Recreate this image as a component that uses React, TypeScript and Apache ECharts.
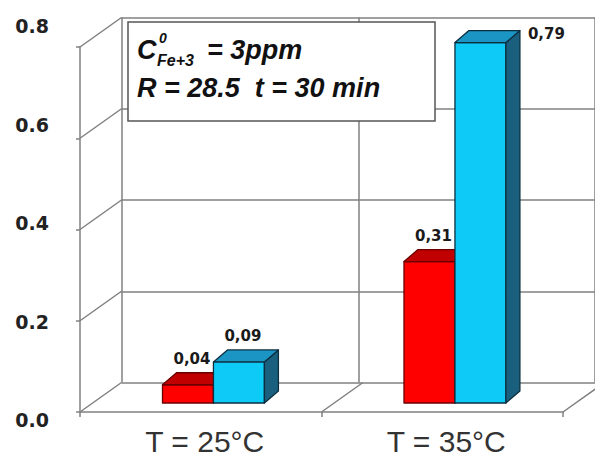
import React, { useEffect, useRef } from "react";
import * as echarts from "echarts";

// Categories, values and axis ticks
const categories = ["T = 25°C", "T = 35°C"];
const seriesRed = [0.04, 0.31];
const seriesBlue = [0.09, 0.79];
const yTicks = [0, 0.2, 0.4, 0.6, 0.8];
const floorEdges = [1, 2];

const Y_MIN = 0;
const Y_MAX = 0.8;
const Y_STEP = 0.2;

// Pseudo-3D geometry (pixels)
const WALL_DEPTH = [41.5, -29.5];
const FACE_SHIFT = [12.7, -9];
const BAR_DEPTH = [14, -12];
const BAR_FRACTION = 0.211;

const LINE = "#808080";

function barRenderer(slot: number, c: { front: string; top: string; side: string; edge: string }) {
  return (params: any, api: any) => {
    const cat = api.value(0);
    const v = api.value(1);
    const top = api.coord([cat, v]);
    const base = api.coord([cat, 0]);
    const band = api.size([1, 0])[0];
    const w = band * BAR_FRACTION;
    const x0 = top[0] + FACE_SHIFT[0] + slot * w;
    const x1 = x0 + w;
    const yT = top[1] + FACE_SHIFT[1];
    const yB = base[1] + FACE_SHIFT[1];
    const [dx, dy] = BAR_DEPTH;
    const stroke = { stroke: c.edge, lineWidth: 1.3, lineJoin: "round" };

    const wallTop = api.coord([cat, Y_MAX])[1] + WALL_DEPTH[1];
    let lx = (x0 + x1) / 2 + 4;
    let ly = yT + dy - 14;
    let align = "center";
    if (ly < wallTop + 6) {
      // keep the label inside the plot: move it beside the bar
      lx = x1 + dx + 8;
      ly = yT + dy + 3;
      align = "left";
    }

    return {
      type: "group",
      children: [
        {
          type: "polygon",
          shape: { points: [[x0, yT], [x1, yT], [x1, yB], [x0, yB]] },
          style: { fill: c.front, ...stroke },
        },
        {
          type: "polygon",
          shape: { points: [[x1, yT], [x1 + dx, yT + dy], [x1 + dx, yB + dy], [x1, yB]] },
          style: { fill: c.side, ...stroke },
        },
        {
          type: "polygon",
          shape: { points: [[x0, yT], [x1, yT], [x1 + dx, yT + dy], [x0 + dx, yT + dy]] },
          style: { fill: c.top, ...stroke },
        },
        {
          type: "text",
          x: lx,
          y: ly,
          style: {
            text: v.toFixed(2).replace(".", ","),
            fontFamily: "DejaVu Sans",
            fontWeight: "bold",
            fontSize: 15,
            fill: "#1a1a1a",
            align,
            verticalAlign: "middle",
          },
        },
      ],
    };
  };
}

export default function App() {
  const ref = useRef<HTMLDivElement>(null);

  useEffect(() => {
    if (!ref.current) return;
    const chart = echarts.init(ref.current, undefined, { renderer: "svg" });

    const textBase = {
      fontFamily: "Liberation Sans, Arial, sans-serif",
      fontWeight: "bold",
      fontStyle: "italic",
      fill: "#111",
      verticalAlign: "middle",
    };

    chart.setOption({
      animation: false,
      backgroundColor: "#ffffff",
      grid: [
        // front plane
        { left: 80, top: 47, width: 483, height: 365 },
        // back wall
        { left: 121.5, top: 17.5, width: 483, height: 365 },
        // value labels
        { left: 80, top: 26, width: 483, height: 394 },
      ],
      xAxis: [
        {
          type: "category",
          gridIndex: 0,
          data: categories,
          axisLine: { lineStyle: { color: LINE, width: 1.5 } },
          axisTick: { show: true, length: 5, lineStyle: { color: LINE, width: 1.5 } },
          axisLabel: {
            fontFamily: "Liberation Sans, Arial, sans-serif",
            fontSize: 30,
            lineHeight: 30,
            color: "#333",
            margin: 14,
            padding: [0, 0, 0, 8],
          },
          splitLine: { show: false },
        },
        {
          type: "category",
          gridIndex: 1,
          data: categories,
          axisLine: { show: false },
          axisTick: { show: false },
          axisLabel: { show: false },
          splitLine: { show: true, lineStyle: { color: LINE, width: 1.5 } },
        },
        {
          type: "category",
          gridIndex: 2,
          data: categories,
          show: false,
        },
      ],
      yAxis: [
        {
          type: "value",
          gridIndex: 0,
          min: Y_MIN,
          max: Y_MAX,
          interval: Y_STEP,
          axisLine: { show: true, lineStyle: { color: LINE, width: 1.5 } },
          axisTick: { show: true, length: 4, lineStyle: { color: LINE, width: 1.5 } },
          axisLabel: { show: false },
          splitLine: { show: false },
        },
        {
          type: "value",
          gridIndex: 1,
          min: Y_MIN,
          max: Y_MAX,
          interval: Y_STEP,
          axisLine: { show: false },
          axisTick: { show: false },
          axisLabel: { show: false },
          splitLine: { show: true, lineStyle: { color: LINE, width: 1.5 } },
        },
        {
          type: "value",
          gridIndex: 2,
          min: Y_MIN,
          max: Y_MAX,
          interval: Y_STEP,
          axisLine: { show: false },
          axisTick: { show: false },
          splitLine: { show: false },
          axisLabel: {
            margin: 31,
            fontFamily: "DejaVu Sans",
            fontWeight: "bold",
            fontSize: 19,
            color: "#222",
            formatter: (v: number) => v.toFixed(1),
          },
        },
      ],
      series: [
        {
          // side wall: diagonals at each tick
          type: "custom",
          xAxisIndex: 0,
          yAxisIndex: 0,
          z: 2,
          silent: true,
          data: yTicks.map((v) => [0, v]),
          encode: { x: 0, y: 1 },
          renderItem: (params: any, api: any) => {
            const p = api.coord([0, api.value(1)]);
            const band = api.size([1, 0])[0];
            const x = p[0] - band / 2;
            return {
              type: "line",
              shape: { x1: x, y1: p[1], x2: x + WALL_DEPTH[0], y2: p[1] + WALL_DEPTH[1] },
              style: { stroke: LINE, lineWidth: 1.5 },
            };
          },
        },
        {
          // floor: diagonals at category boundaries
          type: "custom",
          xAxisIndex: 0,
          yAxisIndex: 0,
          z: 2,
          silent: true,
          data: floorEdges.map((b) => [0, 0, b]),
          encode: { x: 0, y: 1 },
          renderItem: (params: any, api: any) => {
            const p = api.coord([0, 0]);
            const band = api.size([1, 0])[0];
            const x = p[0] - band / 2 + api.value(2) * band;
            return {
              type: "line",
              shape: { x1: x, y1: p[1], x2: x + WALL_DEPTH[0], y2: p[1] + WALL_DEPTH[1] },
              style: { stroke: LINE, lineWidth: 1.5 },
            };
          },
        },
        {
          type: "custom",
          name: "red",
          xAxisIndex: 0,
          yAxisIndex: 0,
          z: 3,
          data: seriesRed.map((v, i) => [i, v]),
          encode: { x: 0, y: 1 },
          renderItem: barRenderer(-1, { front: "#ff0000", top: "#c00000", side: "#8e0000", edge: "#6a0000" }),
        },
        {
          type: "custom",
          name: "blue",
          xAxisIndex: 0,
          yAxisIndex: 0,
          z: 4,
          data: seriesBlue.map((v, i) => [i, v]),
          encode: { x: 0, y: 1 },
          renderItem: barRenderer(0, { front: "#0dcaf7", top: "#1b95c4", side: "#1b5f7e", edge: "#0c2f40" }),
        },
      ],
      graphic: [
        {
          type: "rect",
          z: 10,
          shape: { x: 128, y: 22, width: 307, height: 99 },
          style: { fill: "#ffffff", stroke: "#555", lineWidth: 1.5 },
        },
        { type: "text", z: 11, x: 137, y: 50, style: { ...textBase, text: "C", fontSize: 27 } },
        { type: "text", z: 11, x: 159, y: 38, style: { ...textBase, text: "0", fontSize: 14 } },
        { type: "text", z: 11, x: 157, y: 60, style: { ...textBase, text: "Fe+3", fontSize: 16 } },
        { type: "text", z: 11, x: 207, y: 50, style: { ...textBase, text: "= 3ppm", fontSize: 27 } },
        { type: "text", z: 11, x: 137, y: 88, style: { ...textBase, text: "R = 28.5  t = 30 min", fontSize: 27 } },
      ],
    });

    return () => chart.dispose();
  }, []);

  return <div ref={ref} style={{ position: "fixed", left: 0, top: 0, width: 595, height: 459 }} />;
}
